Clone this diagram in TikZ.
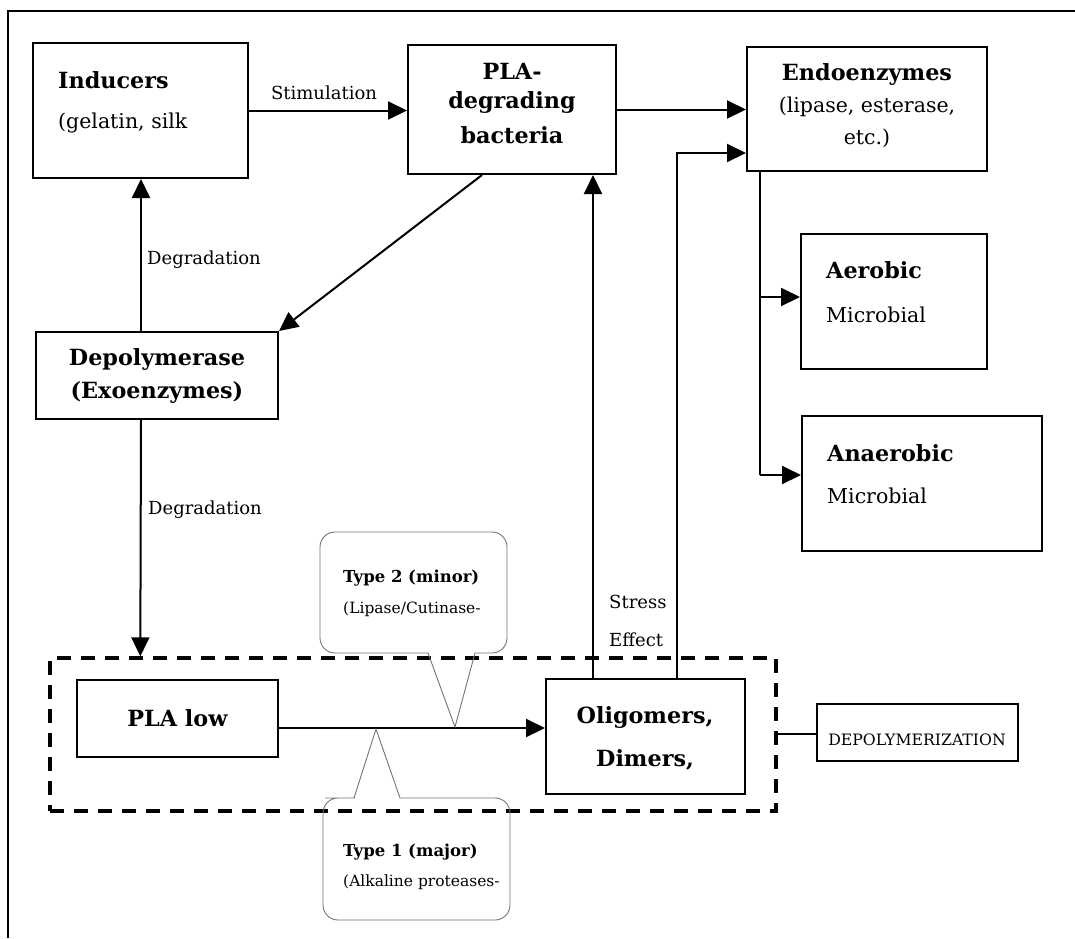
\documentclass[tikz,border=0pt]{standalone}
\usepackage{fontspec}
\setmainfont{DejaVu Serif}
\usetikzlibrary{arrows.meta,calc}
\begin{document}
\begin{tikzpicture}[x=1pt,y=-1pt,
  box/.style={draw,line width=2pt,inner sep=0pt},
  conn/.style={line width=2pt,-{Triangle[length=19pt,width=18pt]}},
  plainline/.style={line width=2pt},
  bt/.style={font=\bfseries\fontsize{22.3}{26}\selectfont,inner sep=0pt},
  nt/.style={font=\fontsize{20.5}{24}\selectfont,inner sep=0pt},
  lt/.style={font=\fontsize{18}{22}\selectfont,inner sep=0pt},
  ct/.style={font=\fontsize{15.5}{18}\selectfont,inner sep=0pt},
  cbt/.style={font=\bfseries\fontsize{16.5}{19}\selectfont,inner sep=0pt},
  callout/.style={draw=black!55,line width=0.9pt}
]
\useasboundingbox (0,0) rectangle (1075,938);
% outer frame
\draw[line width=1.4pt] (8,938) -- (8,11) -- (1075,11);

% boxes
\node[box,minimum width=215pt,minimum height=135pt] (ind) at (140.5,110.5) {};
\node[box,minimum width=208pt,minimum height=129pt] (pla) at (512,109.5) {};
\node[box,minimum width=240pt,minimum height=124pt] (endo) at (867,109) {};
\node[box,minimum width=186pt,minimum height=135pt] (aer) at (894,301.5) {};
\node[box,minimum width=240pt,minimum height=135pt] (ana) at (922,483.5) {};
\node[box,minimum width=242pt,minimum height=87pt] (dep) at (157,375.5) {};
\node[box,minimum width=201pt,minimum height=77pt] (low) at (177.5,718.5) {};
\node[box,minimum width=199pt,minimum height=115pt] (oli) at (645.5,736.5) {};
\node[box,minimum width=201pt,minimum height=57pt] (depz) at (917.5,732.5) {};
\node[draw,line width=3.4pt,dash pattern=on 14pt off 10pt,inner sep=0pt,minimum width=726pt,minimum height=153pt] (grp) at (413,734.5) {};

% texts
\node[bt,anchor=west] (tind) at (58,80) {Inducers};
\node[nt,anchor=west] (tgel) at (58,123) {(gelatin, silk};
\node[bt] (tpla1) at (512,71) {PLA-};
\node[bt] (tpla2) at (512,103) {degrading};
\node[bt] (tpla3) at (512,135) {bacteria};
\node[bt] (tendo) at (867,75) {Endoenzymes};
\node[nt] (tlip) at (867,107) {(lipase, esterase,};
\node[nt] (tetc) at (867,138) {etc.)};
\node[bt,anchor=west] (taer) at (826,270) {Aerobic};
\node[nt,anchor=west] (taerm) at (826,315) {Microbial};
\node[bt,anchor=west] (tana) at (827,453) {Anaerobic};
\node[nt,anchor=west] (tanam) at (827,496) {Microbial};
\node[bt] (tdep1) at (157,359) {Depolymerase};
\node[bt] (tdep2) at (157,392) {(Exoenzymes)};
\node[bt] (tlow) at (177.5,718) {PLA low};
\node[bt] (toli1) at (645,717) {Oligomers,};
\node[bt] (toli2) at (645,760) {Dimers,};
\node[font=\fontsize{15.7}{18}\selectfont,inner sep=0pt] (tdepz) at (917,740) {DEPOLYMERIZATION};

% helper coordinates
\coordinate (lowout) at ($(low.east)+(0,9.5)$);
\coordinate (oliin) at (lowout -| oli.west);
\coordinate (etop) at ($(endo.south west)+(14,0)$);
\coordinate (emid) at ($(etop)+(0,125)$);
\coordinate (ebot) at ($(etop)+(0,303)$);
\coordinate (aerin) at (emid -| aer.west);
\coordinate (anain) at (ebot -| ana.west);
\coordinate (grpout) at ($(grp.east)+(0,-0.5)$);
\coordinate (depzin) at (grpout -| depz.west);
\coordinate (olia) at ($(oli.north west)+(48,0)$);
\coordinate (olib) at ($(oli.north west)+(132,0)$);
\coordinate (bend) at ($(olib)+(0,-525)$);
\coordinate (endoin) at (bend -| endo.west);
\coordinate (plain) at (olia |- pla.south);

% connectors
\draw[conn] (ind.east) -- (ind.east -| pla.west);
\node[lt] (lstim) at (324,93) {Stimulation};
\draw[conn] (pla.east) -- (pla.east -| endo.west);
\draw[conn] ($(pla.south west)+(75,0)$) -- (dep.north east);
\draw[conn] ($(dep.north west)+(106,0)$) -- ($(ind.south west)+(109,0)$);
\node[lt,anchor=west] (ldeg1) at (147,260) {Degradation};
\draw[conn] ($(dep.south west)+(106,0)$) -- ($(grp.north west)+(92,0)$);
\node[lt,anchor=west] (ldeg2) at (148,510) {Degradation};
\draw[conn] (lowout) -- (oliin);
\draw[conn] (olia) -- (plain);
\node[lt,anchor=west] (lstress) at (609,602) {Stress};
\node[lt,anchor=west] (leffect) at (609,640) {Effect};
\draw[conn] (olib) -- (bend) -- (endoin);
\draw[plainline] (etop) -- (ebot);
\draw[conn] (emid) -- (aerin);
\draw[conn] (ebot) -- (anain);
\draw[plainline] (grpout) -- (depzin);

% callouts
\draw[callout] (428,653) -- (455,727) -- (475,653) -- (490,653) [rounded corners=15pt] -- (507,653) -- (507,532) -- (320,532) -- (320,653) -- (410,653) [sharp corners] -- (428,653);
\node[cbt,anchor=west] (tt2) at (343,578) {Type 2 (minor)};
\node[ct,anchor=west] (tt2b) at (343,609) {(Lipase/Cutinase-};
\draw[callout] (354,798) -- (376,729) -- (400,798) -- (420,798) [rounded corners=15pt] -- (510,798) -- (510,920) -- (323,920) -- (323,798) -- (340,798) [sharp corners] -- (354,798);
\node[cbt,anchor=west] (tt1) at (343,852) {Type 1 (major)};
\node[ct,anchor=west] (tt1b) at (343,882) {(Alkaline proteases-};
\end{tikzpicture}
\end{document}
